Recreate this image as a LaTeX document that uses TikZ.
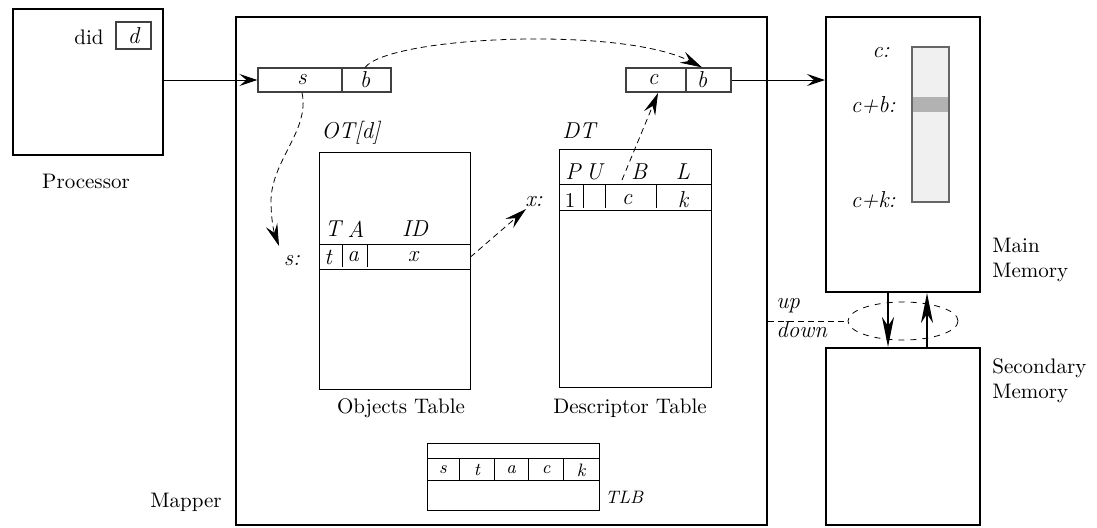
\documentclass[tikz,border=0pt]{standalone}
\usetikzlibrary{arrows.meta,shapes.geometric,fit}
\begin{document}
\begin{tikzpicture}[x=0.5pt,y=-0.5pt,font=\fontsize{10.5}{12.5}\selectfont,
  thickbox/.style={draw,line width=1pt,inner sep=0pt},
  thinbox/.style={draw,line width=0.5pt,inner sep=0pt},
  regbox/.style={draw=black!75,line width=0.6pt,inner sep=0pt},
  arr/.style={line width=0.5pt,-{Stealth[length=9pt,width=6pt,inset=3.5pt]}},
  darr/.style={line width=0.4pt,dash pattern=on 3pt off 2pt,-{Stealth[length=11pt,width=6pt,inset=4pt]}},
  bigarr/.style={line width=0.8pt,-{Stealth[length=15pt,width=6pt,inset=4.5pt]}},
  it/.style={font=\fontsize{11.5}{13.5}\selectfont\itshape,inner sep=1pt},
  rm/.style={inner sep=1pt},
  tl/.style={font=\small\itshape,inner sep=1pt}]
\useasboundingbox (0,0) rectangle (1097,527);

% Processor
\node[thickbox,fit={(13,9)(163,155)}] (proc) {};
\node[rm] (did) at (89,37) {did};
\node[regbox,fit={(116,22)(151,49)}] (dbox) {};
\node[it] at (dbox.center) {d};
\node[rm] (proclbl) at (86,181) {Processor};

% Mapper
\node[thickbox,fit={(236,17)(767,525)}] (mapper) {};
\node[rm,anchor=east] (maplbl) at (224,502) {Mapper};

% registers
\node[regbox,fit={(258,68)(391,92)}] (sb) {};
\draw[black!75,line width=0.6pt] (342,68) -- (342,92);
\node[it] (sbS) at (302,80) {s};
\node[it] (sbB) at (365,80) {b};

\node[regbox,fit={(626,68)(731,92)}] (cb) {};
\draw[black!75,line width=0.6pt] (686,68) -- (686,92);
\node[it] (cbC) at (653,80) {c};
\node[it] (cbB) at (702,80) {b};

% Objects table
\node[it,anchor=west] (otlbl) at (319,133) {OT[d]};
\node[thinbox,fit={(319,152)(470,389)}] (ot) {};
\draw[line width=0.5pt] (319,244) -- (470,244) (319,269) -- (470,269);
\draw[line width=0.5pt] (342,245) -- (342,267) (367,245) -- (367,267);
\node[it] at (333,229) {T};
\node[it] at (356,229) {A};
\node[it] at (415,229) {ID};
\node[it] at (328,257) {t};
\node[it] at (353,257) {a};
\node[it] (otx) at (413,257) {x};
\node[it] (slab) at (292,261) {s:};
\node[rm] at (401,408) {Objects Table};

% Descriptor table
\node[it,anchor=west] (dtlbl) at (560,131) {DT};
\node[thinbox,fit={(559,149)(711,387)}] (dt) {};
\draw[line width=0.5pt] (559,184) -- (711,184) (559,210) -- (711,210);
\draw[line width=0.5pt] (583,185) -- (583,208) (605,185) -- (605,208) (656,185) -- (656,208);
\node[it] at (573,172) {P};
\node[it] at (594,172) {U};
\node[it] at (639,172) {B};
\node[it] at (683,172) {L};
\node[rm] at (570,200) {1};
\node[it] at (627,200) {c};
\node[it] at (683,200) {k};
\node[it] (xlab) at (534,202) {x:};
\node[rm] at (630,408) {Descriptor Table};

% TLB
\node[thinbox,fit={(427,443)(599,510)}] (tlb) {};
\draw[line width=0.5pt] (427,458) -- (599,458) (427,480) -- (599,480);
\draw[line width=0.5pt] (459,458) -- (459,480) (494,458) -- (494,480) (528,458) -- (528,480) (563,458) -- (563,480);
\node[tl] at (443,470) {s};
\node[tl] at (477,470) {t};
\node[tl] at (511,470) {a};
\node[tl] at (546,470) {c};
\node[tl] at (581,470) {k};
\node[tl,anchor=west] (tlblbl) at (603,497) {TLB};

% Memories
\node[thickbox,fit={(826,17)(980,292)}] (mm) {};
\node[thickbox,fit={(826,348)(980,525)}] (sec) {};
\node[rm,anchor=west,align=left] (mmlbl) at (990,260) {Main\\Memory};
\node[rm,anchor=west,align=left] (seclbl) at (990,381) {Secondary\\Memory};

\fill[black!6] (912,47) rectangle (949,202);
\fill[black!30] (912,97) rectangle (949,112);
\node[draw=black!60,line width=0.6pt,inner sep=0pt,fit={(912,47)(949,202)}] (strip) {};
\node[it,anchor=east] at (892,53) {c:};
\node[it,anchor=east] at (898,105) {c+b:};
\node[it,anchor=east] at (898,200) {c+k:};

% up/down
\node[draw,dashed,line width=0.4pt,ellipse,minimum width=55pt,minimum height=19pt,inner sep=0pt] (ell) at (903,321) {};
\draw[line width=0.4pt,dash pattern=on 3pt off 2pt] (ell.west -| mapper.east) -- (ell.west);
\node[it,anchor=west] at (774,306) {up};
\node[it,anchor=west] at (774,330) {down};
\coordinate (dnx) at (888,0);
\coordinate (upx) at (927,0);
\draw[bigarr] (dnx |- mm.south) -- (dnx |- sec.north);
\draw[bigarr] (upx |- sec.north) -- (upx |- mm.south);

% connectors
\draw[arr] (proc.east |- sb.west) -- (sb.west);
\draw[arr] (cb.east) -- (cb.east -| mm.west);
\draw[darr] (sbB |- sb.north) .. controls (390,36) and (622,26) .. (cbB |- cb.north);
\coordinate (sEnd) at (279,246);
\draw[darr] (sbS |- sb.south) .. controls (310,130) and (272,160) .. (271,200) .. controls (271,220) and (274,232) .. (sEnd);
\coordinate (xEnd) at (526,209);
\draw[darr] (ot.east |- otx) -- (xEnd);
\coordinate (dtStart) at (622,180);
\draw[darr] (dtStart) -- (658,93);
\end{tikzpicture}
\end{document}
